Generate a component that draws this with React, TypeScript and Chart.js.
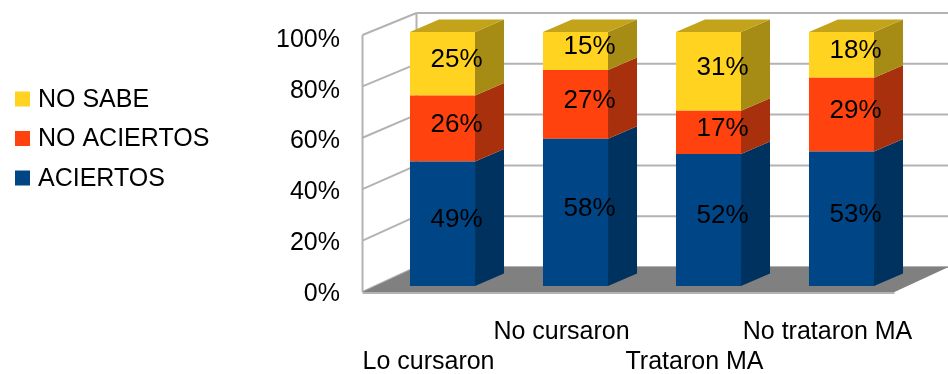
import React, { useEffect, useRef } from "react";
import { Chart, registerables } from "chart.js";

Chart.register(...registerables);

const categories = ["Lo cursaron", "No cursaron", "Trataron MA", "No trataron MA"];
const aciertos = [49, 58, 52, 53];
const noAciertos = [26, 27, 17, 29];
const noSabe = [25, 15, 31, 18];
const seriesLabels = ["ACIERTOS", "NO ACIERTOS", "NO SABE"];
const frontColors = ["#004586", "#FF420E", "#FFD320"];
const sideColors = ["#00325F", "#A8300C", "#A68C14"];
const topColors = ["#00396B", "#B8350D", "#C2A31A"];

const FONT = "'Liberation Sans', Arial, sans-serif";
// 3D geometry (pixel offsets relative to the bar front plane)
const FRONT_DX = -13.5;
const FRONT_DY = 6;
const BACK_DX = 40.5;
const BACK_DY = -19;
const BAR_DX = 29;
const BAR_DY = -12.5;

const threeD = {
  id: "threeD",
  beforeDatasetsDraw(chart: any) {
    const { ctx, chartArea } = chart;
    const ys = chart.scales.y;
    const L = chartArea.left;
    const R = chartArea.right;
    const y0 = ys.getPixelForValue(0);
    const yF = (v: number) => y0 + (ys.getPixelForValue(v) - y0) * 1.012 + FRONT_DY;
    const yB = (v: number) => ys.getPixelForValue(v) + BACK_DY;
    const ticks = ys.ticks.map((t: any) => t.value);
    const top = ys.max;
    ctx.save();
    ctx.strokeStyle = "#B3B3B3";
    ctx.lineWidth = 2;
    ctx.beginPath();
    for (const v of ticks) {
      ctx.moveTo(L + BACK_DX, yB(v));
      ctx.lineTo(R + BACK_DX, yB(v));
      ctx.moveTo(L + FRONT_DX, yF(v));
      ctx.lineTo(L + BACK_DX, yB(v));
    }
    ctx.moveTo(L + FRONT_DX, yF(0));
    ctx.lineTo(L + FRONT_DX, yF(top));
    ctx.moveTo(L + BACK_DX, yB(0));
    ctx.lineTo(L + BACK_DX, yB(top));
    ctx.stroke();
    // floor
    ctx.fillStyle = "#808080";
    ctx.beginPath();
    ctx.moveTo(L + FRONT_DX, yF(0));
    ctx.lineTo(R + FRONT_DX, yF(0));
    ctx.lineTo(R + BACK_DX, yB(0));
    ctx.lineTo(L + BACK_DX, yB(0));
    ctx.closePath();
    ctx.fill();
    ctx.strokeStyle = "#B3B3B3";
    ctx.beginPath();
    ctx.moveTo(L + FRONT_DX, yF(0) + 1);
    ctx.lineTo(R + FRONT_DX, yF(0) + 1);
    ctx.stroke();
    ctx.restore();
  },
  afterDatasetsDraw(chart: any) {
    const { ctx } = chart;
    const n = chart.data.datasets.length;
    ctx.save();
    for (let d = 0; d < n; d++) {
      const meta = chart.getDatasetMeta(d);
      meta.data.forEach((el: any) => {
        const p = el.getProps(["x", "y", "base", "width"], true);
        const right = p.x + p.width / 2;
        const left = p.x - p.width / 2;
        ctx.fillStyle = sideColors[d];
        ctx.beginPath();
        ctx.moveTo(right, p.y);
        ctx.lineTo(right + BAR_DX, p.y + BAR_DY);
        ctx.lineTo(right + BAR_DX, p.base + BAR_DY);
        ctx.lineTo(right, p.base);
        ctx.closePath();
        ctx.fill();
        if (d === n - 1) {
          ctx.fillStyle = topColors[d];
          ctx.beginPath();
          ctx.moveTo(left, p.y);
          ctx.lineTo(left + BAR_DX, p.y + BAR_DY);
          ctx.lineTo(right + BAR_DX, p.y + BAR_DY);
          ctx.lineTo(right, p.y);
          ctx.closePath();
          ctx.fill();
        }
      });
    }
    ctx.fillStyle = "#000";
    ctx.font = `26px ${FONT}`;
    ctx.textAlign = "center";
    ctx.textBaseline = "middle";
    for (let d = 0; d < n; d++) {
      const meta = chart.getDatasetMeta(d);
      const data = chart.data.datasets[d].data;
      meta.data.forEach((el: any, i: number) => {
        const p = el.getProps(["x", "y", "base"], true);
        ctx.fillText(`${data[i]}%`, p.x + 14, (p.y + p.base) / 2 - 4);
      });
    }
    ctx.restore();
  },
  afterDraw(chart: any) {
    const { ctx } = chart;
    const ds = chart.data.datasets;
    ctx.save();
    ctx.font = `25px ${FONT}`;
    ctx.textBaseline = "middle";
    ctx.textAlign = "left";
    const order = ds.map((_: any, i: number) => i).reverse();
    order.forEach((di: number, row: number) => {
      const cy = 99 + row * 39.5;
      ctx.fillStyle = ds[di].backgroundColor;
      ctx.fillRect(15, cy - 7.5, 15, 15);
      ctx.fillStyle = "#000";
      ctx.fillText(ds[di].label, 38, cy + 1);
    });
    ctx.restore();
  },
};

export default function App() {
  const ref = useRef<HTMLCanvasElement | null>(null);
  useEffect(() => {
    if (!ref.current) return;
    const chart = new Chart(ref.current, {
      type: "bar",
      data: {
        labels: categories,
        datasets: [
          { label: seriesLabels[0], data: aciertos, backgroundColor: frontColors[0] },
          { label: seriesLabels[1], data: noAciertos, backgroundColor: frontColors[1] },
          { label: seriesLabels[2], data: noSabe, backgroundColor: frontColors[2] },
        ],
      },
      options: {
        animation: false,
        responsive: false,
        devicePixelRatio: 1,
        layout: { padding: { left: 276, right: 40, top: 32, bottom: 0 } },
        datasets: {
          bar: { barPercentage: 0.489, categoryPercentage: 1, borderWidth: 0 },
        },
        plugins: {
          legend: { display: false },
          tooltip: { enabled: false },
        },
        scales: {
          x: {
            stacked: true,
            grid: { display: false, drawTicks: false },
            border: { display: false },
            ticks: {
              color: "#000",
              font: { family: FONT, size: 25, lineHeight: 1.2 },
              padding: 31,
              labelOffset: -14,
              maxRotation: 0,
              autoSkip: false,
              callback: (_v: any, i: number) =>
                i % 2 === 0 ? ["", categories[i]] : [categories[i]],
            },
            afterFit: (s: any) => {
              s.height = 88;
              s.paddingLeft = 0;
              s.paddingRight = 0;
              s.paddingTop = 0;
              s.paddingBottom = 0;
            },
          },
          y: {
            stacked: true,
            min: 0,
            max: 100,
            grid: { display: false, drawTicks: false },
            border: { display: false },
            ticks: {
              stepSize: 20,
              color: "#000",
              font: { family: FONT, size: 25 },
              padding: 36,
              labelOffset: 8,
              callback: (v: any) => `${v}%`,
            },
            afterFit: (s: any) => {
              s.width = 100;
              s.paddingLeft = 0;
              s.paddingRight = 0;
              s.paddingTop = 0;
              s.paddingBottom = 0;
            },
          },
        },
      },
      plugins: [threeD],
    });
    return () => chart.destroy();
  }, []);
  return (
    <div style={{ position: "fixed", left: 0, top: 0, width: 948, height: 374, background: "#fff" }}>
      <canvas ref={ref} width={948} height={374} />
    </div>
  );
}
